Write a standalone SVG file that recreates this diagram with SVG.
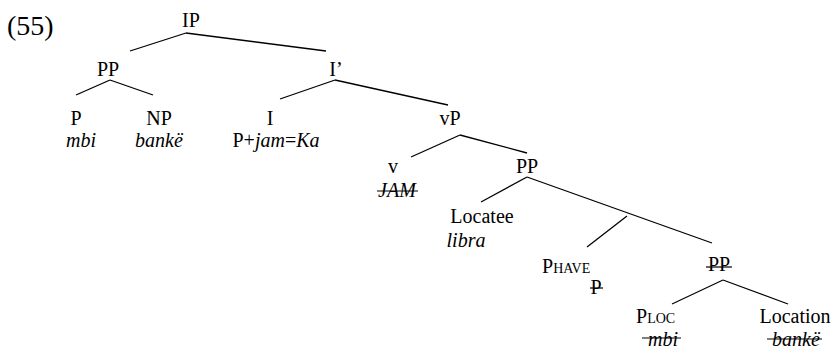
<svg xmlns="http://www.w3.org/2000/svg" width="839" height="351" viewBox="0 0 839 351">
  <style>
    text { font-family: "Liberation Serif", "Times New Roman", serif; font-size: 20px; fill: #000; }
    .c { text-anchor: middle; }
    .it { font-style: italic; }
    .sub { font-size: 14px; }
    .num { font-size: 28px; }
    line { stroke: #000; stroke-width: 1.3; }
    .strike { stroke-width: 1.2; }
  </style>
  <rect width="839" height="351" fill="#fff"/>

  <text class="num" x="7" y="35">(55)</text>

  <!-- branches -->
  <g id="connectors">
    <line x1="186" y1="33" x2="130" y2="51"/>
    <line x1="186" y1="33" x2="326" y2="51"/>
    <line x1="110" y1="80" x2="76" y2="95"/>
    <line x1="110" y1="80" x2="153" y2="95"/>
    <line x1="335" y1="80" x2="280" y2="99"/>
    <line x1="335" y1="80" x2="448" y2="105"/>
    <line x1="460" y1="135" x2="411" y2="157"/>
    <line x1="460" y1="135" x2="527" y2="153"/>
    <line x1="527" y1="177" x2="481" y2="202"/>
    <line x1="527" y1="177" x2="712" y2="243"/>
    <line x1="627" y1="216" x2="587" y2="247"/>
    <line x1="723" y1="280" x2="672" y2="304"/>
    <line x1="723" y1="280" x2="788" y2="304"/>
  </g>

  <g id="ip"><text class="c" x="191" y="27">IP</text></g>
  <g id="pp-top"><text class="c" x="108" y="76">PP</text></g>
  <g id="p-mbi">
    <text class="c" x="76" y="125">P</text>
    <text class="c it" x="81" y="147">mbi</text>
  </g>
  <g id="np-banke">
    <text class="c" x="159" y="125">NP</text>
    <text class="c it" x="159" y="147">bankë</text>
  </g>
  <g id="i-bar"><text class="c" x="336" y="76">I’</text></g>
  <g id="i-head">
    <text class="c" x="270" y="125">I</text>
    <text class="c" x="276" y="147">P+<tspan class="it">jam</tspan>=<tspan class="it">Ka</tspan></text>
  </g>
  <g id="vp"><text class="c" x="450" y="125">vP</text></g>
  <g id="v-head">
    <text class="c" x="393" y="173">v</text>
    <text class="c it" x="397" y="197">JAM</text>
    <line class="strike" x1="377" y1="191" x2="418" y2="191"/>
  </g>
  <g id="pp-mid"><text class="c" x="527" y="173">PP</text></g>
  <g id="locatee">
    <text class="c" x="482" y="223">Locatee</text>
    <text class="c it" x="466" y="247">libra</text>
  </g>
  <g id="p-have">
    <text x="542" y="273">P<tspan class="sub">HAVE</tspan></text>
    <text class="c" x="596" y="294">P</text>
    <line class="strike" x1="590" y1="288" x2="603" y2="288"/>
  </g>
  <g id="pp-low">
    <text class="c" x="719" y="271">PP</text>
    <line class="strike" x1="706" y1="267" x2="732" y2="267"/>
  </g>
  <g id="p-loc">
    <text x="636" y="323">P<tspan class="sub">LOC</tspan></text>
    <text class="c it" x="663" y="346">mbi</text>
    <line class="strike" x1="642" y1="338" x2="681" y2="338"/>
  </g>
  <g id="location">
    <text class="c" x="795" y="323">Location</text>
    <text class="c it" x="796" y="346">bankë</text>
    <line class="strike" x1="767" y1="339" x2="822" y2="339"/>
  </g>
</svg>
